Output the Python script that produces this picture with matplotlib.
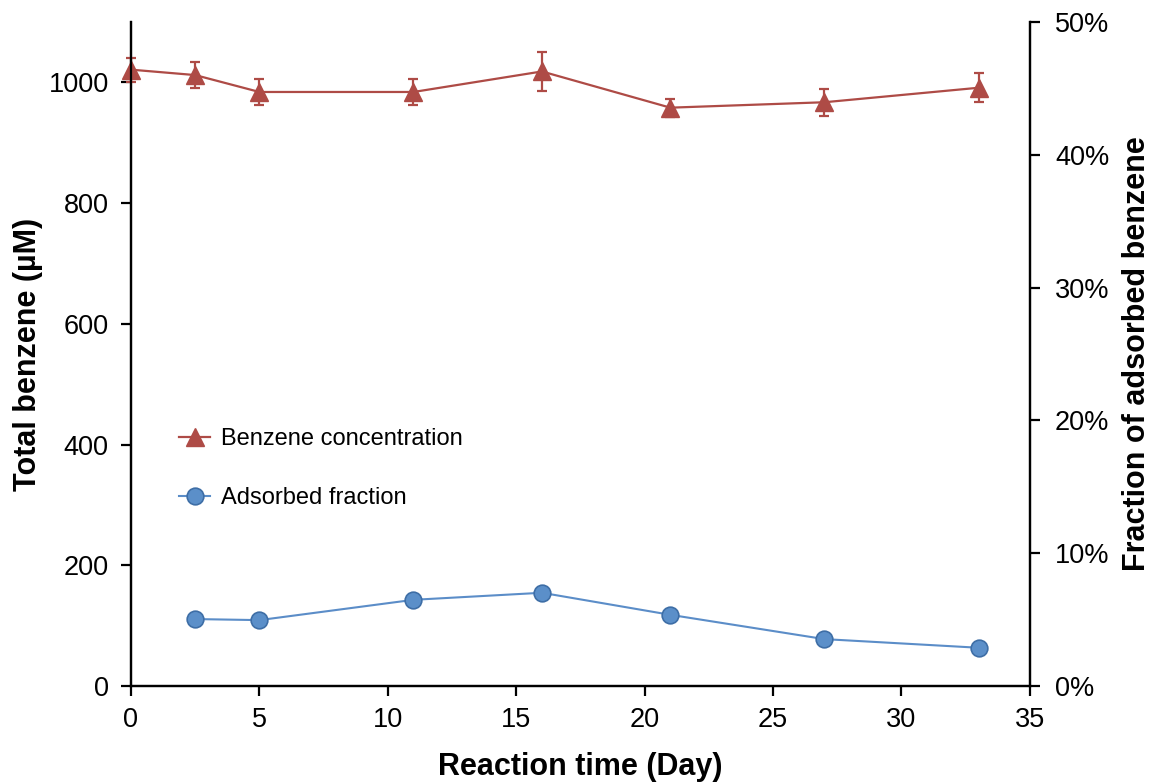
import numpy as np
import matplotlib.pyplot as plt
from matplotlib.lines import Line2D
from matplotlib.ticker import PercentFormatter

plt.rcParams['font.family'] = ['Liberation Sans', 'DejaVu Sans']

# benzene concentration (uM) with error bars
days_conc = [0, 2.5, 5, 11, 16, 21, 27, 33]
conc = [1021, 1012, 984, 984, 1018, 958, 967, 991]
conc_err = [20, 22, 22, 22, 32, 15, 22, 24]

# adsorbed fraction (%)
days_ads = [2.5, 5, 11, 16, 21, 27, 33]
ads_frac = [5.04, 4.96, 6.49, 7.02, 5.36, 3.53, 2.88]

color_conc = "#AE4B46"
color_ads_line = "#5B8DC8"
color_ads_face = "#5B8FC9"
color_ads_edge = "#3E6EA6"

fig = plt.figure(figsize=(11.52, 7.84), dpi=100)
ax = fig.add_axes([0.1137, 0.125, 0.7803, 0.847])
ax2 = ax.twinx()

# Benzene concentration
ax.errorbar(days_conc, conc, yerr=conc_err, color=color_conc, linewidth=1.6,
            marker='^', markersize=13, capsize=3.8, elinewidth=1.6, capthick=1.6,
            zorder=3, clip_on=False)

# Adsorbed fraction
ax2.plot(days_ads, ads_frac, color=color_ads_line, linewidth=1.5,
         marker='o', markersize=12, markerfacecolor=color_ads_face,
         markeredgecolor=color_ads_edge, markeredgewidth=1.2, zorder=3)

ax.set_xlim(0, 35)
ax.set_ylim(0, 1100)
ax.set_xticks(np.arange(0, 36, 5))
ax.set_yticks(np.arange(0, 1001, 200))
ax2.set_ylim(0, 50)
ax2.set_yticks(np.arange(0, 51, 10))
ax2.yaxis.set_major_formatter(PercentFormatter(decimals=0))

for a in (ax, ax2):
    a.spines['top'].set_color('none')
    for s in ('left', 'right', 'bottom'):
        a.spines[s].set_linewidth(1.6)

ax.tick_params(axis='x', direction='out', length=7, width=1.6,
               labelsize=19.5, pad=8)
ax.tick_params(axis='y', direction='out', length=7, width=1.6,
               labelsize=19.5, pad=9)
ax2.tick_params(axis='y', direction='out', length=7, width=1.6,
                labelsize=19.5, pad=11)

ax.set_xlabel('Reaction time (Day)', fontsize=22, fontweight='bold', labelpad=14)
ax.set_ylabel('Total benzene (\u00b5M)', fontsize=22, fontweight='bold', labelpad=4)
ax2.set_ylabel('Fraction of adsorbed benzene', fontsize=22, fontweight='bold', labelpad=9)

handles = [
    Line2D([], [], color=color_conc, linewidth=1.6, marker='^', markersize=13),
    Line2D([], [], color=color_ads_line, linewidth=1.5, marker='o', markersize=12,
           markerfacecolor=color_ads_face, markeredgecolor=color_ads_edge,
           markeredgewidth=1.2),
]
labels = ['Benzene concentration', 'Adsorbed fraction']
ax2.legend(handles, labels, loc='upper left', bbox_to_anchor=(0.03, 0.42),
           frameon=False, fontsize=17, labelspacing=1.55,
           handlelength=1.3, handletextpad=0.45)

fig.savefig('out.png', dpi=100)
